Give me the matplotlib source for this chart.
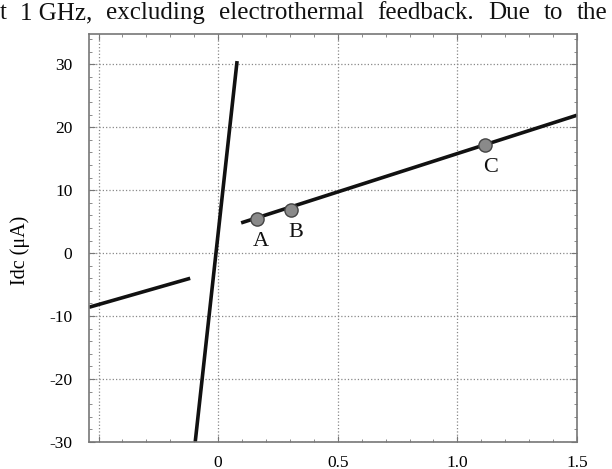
import matplotlib
matplotlib.use("Agg")
import matplotlib.pyplot as plt
from matplotlib.ticker import MultipleLocator

plt.rcParams['font.family'] = ['Liberation Serif', 'DejaVu Serif']

# Data
branch_left_x = [-0.54, -0.117]
branch_left_y = [-8.6, -4.0]
branch_steep_x = [-0.096, 0.079]
branch_steep_y = [-30.0, 30.5]
branch_right_x = [0.096, 1.5]
branch_right_y = [4.8, 21.9]
point_x = [0.163, 0.305, 1.115]
point_y = [5.4, 6.9, 17.1]
point_labels = ["A", "B", "C"]
label_x = [0.18, 0.326, 1.14]
label_y = [1.9, 3.2, 13.6]
xtick_vals = [-0.5, 0, 0.5, 1.0, 1.5]
xtick_labels = ["", "0", "0.5", "1.0", "1.5"]
ytick_vals = [-30, -20, -10, 0, 10, 20, 30]
ytick_labels = ["-30", "-20", "-10", "0", "10", "20", "30"]
header_words = ["t", "1 GHz,", "excluding", "electrothermal", "feedback.", "Due", "to", "the"]

W, H = 612, 469
fig = plt.figure(figsize=(W/100, H/100), dpi=100)
ax = fig.add_axes([89/W, 1-442/H, (577-89)/W, (442-34)/H])

ax.plot(branch_left_x, branch_left_y, color='#111111', lw=2.6, solid_capstyle='butt')
ax.plot(branch_steep_x, branch_steep_y, color='#111111', lw=2.6, solid_capstyle='butt')
ax.plot(branch_right_x, branch_right_y, color='#111111', lw=2.6, solid_capstyle='butt')
ax.plot(point_x, point_y, 'o', ms=9.5, mfc='#8a8a8a', mec='#444444', mew=1.0, zorder=5)
for lx, ly, t in zip(label_x, label_y, point_labels):
    ax.text(lx, ly, t, fontsize=16, ha='center', va='center', color='#111111')

ax.set_xlim(-0.54, 1.5)
ax.set_ylim(-30, 34.8)
ax.set_xticks(xtick_vals)
ax.set_xticklabels(xtick_labels)
ax.set_yticks(ytick_vals)
ax.set_yticklabels(ytick_labels)
ax.xaxis.set_minor_locator(MultipleLocator(0.1))
ax.yaxis.set_minor_locator(MultipleLocator(2))
ax.tick_params(which='both', direction='in', top=True, right=True, color='#777777')
ax.tick_params(which='major', length=4, labelsize=12.5, pad=9)
ax.tick_params(which='minor', length=2.5)
ax.tick_params(axis='y', pad=12)
ax.grid(True, which='major', linestyle=':', color='#888888', lw=0.9)
for s in ax.spines.values():
    s.set_color('#777777')
    s.set_linewidth(1.2)
    s.set_linestyle((0, (2, 1)))

ax.set_ylabel("Idc (\u03bcA)", fontsize=14.5)
ax.yaxis.set_label_coords(-0.12, 0.47)

# Justified header line (fragment of the surrounding paper text)
renderer = fig.canvas.get_renderer()
texts = [fig.text(0, 1-19/H, w, fontsize=18, ha='left', va='baseline', color='#111111')
         for w in header_words]
widths = [t.get_window_extent(renderer=renderer).width for t in texts]
x_start, x_end = 0.0, 607.0
gap = (x_end - x_start - sum(widths)) / (len(texts) - 1)
x = x_start
for t, wd in zip(texts, widths):
    t.set_x(x / W)
    x += wd + gap

fig.savefig("out.png", dpi=100, facecolor='white')
